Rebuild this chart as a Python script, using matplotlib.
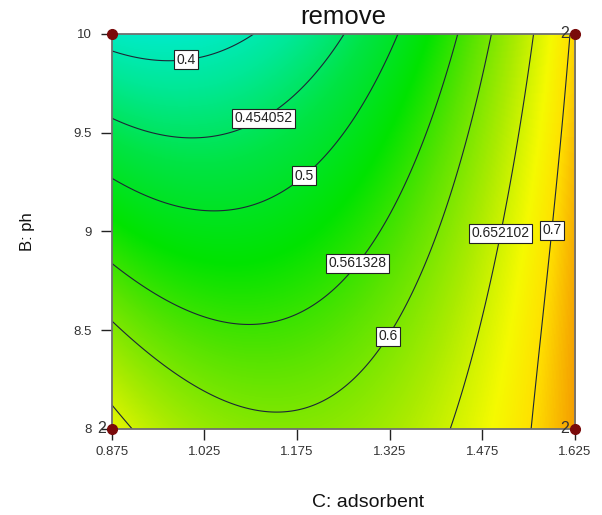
import numpy as np
import matplotlib
matplotlib.use("Agg")
import matplotlib.pyplot as plt
from matplotlib.colors import LinearSegmentedColormap, Normalize

plt.rcParams['font.family'] = ['Liberation Sans', 'DejaVu Sans']

# ---------------- data ----------------
title = "remove"
x_label = "C: adsorbent"
y_label = "B: ph"
x_ticks = [0.875, 1.025, 1.175, 1.325, 1.475, 1.625]
x_tick_labels = ["0.875", "1.025", "1.175", "1.325", "1.475", "1.625"]
y_ticks = [8, 8.5, 9, 9.5, 10]
y_tick_labels = ["8", "8.5", "9", "9.5", "10"]

levels = [0.4, 0.454052, 0.5, 0.561328, 0.6, 0.652102, 0.7]
level_labels = ["0.4", "0.454052", "0.5", "0.561328", "0.6", "0.652102", "0.7"]

# points: (C, B)
trace_040 = [(0.875, 9.919), (0.926, 9.878), (0.969, 9.863), (1.018, 9.883), (1.071, 9.934), (1.107, 10.0)]
trace_045 = [(0.875, 9.575), (0.937, 9.504), (0.997, 9.478), (1.072, 9.524), (1.120, 9.575),
             (1.180, 9.701), (1.212, 9.833), (1.253, 10.0)]
trace_050 = [(0.875, 9.266), (0.937, 9.175), (1.046, 9.104), (1.127, 9.144), (1.169, 9.225),
             (1.217, 9.377), (1.261, 9.580), (1.305, 9.802), (1.339, 10.0)]
trace_056 = [(0.875, 8.825), (0.965, 8.694), (1.046, 8.567), (1.110, 8.521), (1.169, 8.552),
             (1.229, 8.653), (1.277, 8.830), (1.301, 8.906), (1.342, 9.159), (1.385, 9.499),
             (1.418, 9.833), (1.436, 10.0)]
trace_060 = [(0.875, 8.527), (0.965, 8.349), (1.046, 8.197), (1.136, 8.086), (1.180, 8.096),
             (1.261, 8.233), (1.317, 8.461), (1.358, 8.739), (1.398, 8.906), (1.439, 9.327),
             (1.491, 10.0)]
trace_065 = [(0.875, 8.106), (0.909, 8.0), (1.423, 8.0), (1.450, 8.233), (1.482, 8.653),
             (1.500, 8.906), (1.531, 9.499), (1.557, 10.0)]
trace_070 = [(1.539, 8.0), (1.557, 8.4), (1.580, 8.906), (1.601, 9.499), (1.617, 10.0)]
traces = [trace_040, trace_045, trace_050, trace_056, trace_060, trace_065, trace_070]

# estimated values at a few spots between contours: (C, B, value)
extra_points = [(0.875, 10.0, 0.385), (1.625, 8.0, 0.725), (1.625, 9.0, 0.72),
                (1.625, 10.0, 0.705), (1.15, 8.0, 0.603)]

# contour label positions (C, B)
label_positions = [(0.994, 9.90), (1.12, 9.58), (1.183, 9.296), (1.277, 8.83),
                   (1.326, 8.461), (1.504, 8.992), (1.580, 9.01)]

# design points (corners) and replicate counts
design_C = [0.875, 1.625, 0.875, 1.625]
design_B = [10, 10, 8, 8]
design_reps = [1, 2, 2, 2]

# colour scale (value -> colour)
cmap_values = [0.38, 0.42, 0.47, 0.53, 0.58, 0.63, 0.675, 0.70, 0.73]
cmap_colors = ["#00ebc8", "#00e896", "#00e446", "#00e300", "#5ae400", "#aaeb00",
               "#f5fa00", "#ffe100", "#f5a000"]

# ---------------- fit response surface (cubic in coded units) ----------------
pts_C, pts_B, pts_v = [], [], []
for lev, tr in zip(levels, traces):
    for c, b in tr:
        pts_C.append(c); pts_B.append(b); pts_v.append(lev)
for c, b, v in extra_points:
    pts_C.append(c); pts_B.append(b); pts_v.append(v)
pts_C = np.array(pts_C); pts_B = np.array(pts_B); pts_v = np.array(pts_v)


def terms(C, B):
    X = (np.asarray(C) - 1.25) / 0.375
    Y = np.asarray(B) - 9.0
    return np.stack([np.ones_like(X), X, Y, X * Y, X**2, Y**2,
                     X**3, X**2 * Y, X * Y**2, Y**3], axis=-1)


coef, *_ = np.linalg.lstsq(terms(pts_C, pts_B), pts_v, rcond=None)

Cg = np.linspace(0.875, 1.625, 400)
Bg = np.linspace(8, 10, 400)
CC, BB = np.meshgrid(Cg, Bg)
Z = terms(CC, BB) @ coef

# ---------------- plot ----------------
fig = plt.figure(figsize=(6.02, 5.15), dpi=100)
ax = fig.add_axes([0.1855, 0.167, 0.7695, 0.767])

vmin, vmax = cmap_values[0], cmap_values[-1]
cmap = LinearSegmentedColormap.from_list(
    "de", [((v - vmin) / (vmax - vmin), col) for v, col in zip(cmap_values, cmap_colors)])
ax.imshow(Z, extent=[Cg[0], Cg[-1], Bg[0], Bg[-1]], origin="lower", aspect="auto",
          cmap=cmap, norm=Normalize(vmin, vmax), interpolation="bilinear", zorder=0)

cs = ax.contour(CC, BB, Z, levels=levels, colors="#1c2636", linewidths=0.8, zorder=2)
fmt = dict(zip(cs.levels, level_labels))
texts = ax.clabel(cs, cs.levels, manual=label_positions, inline=False, fmt=fmt,
                  fontsize=10, colors="#222222", zorder=4)
for t in texts:
    t.set_rotation(0)
    t.set_bbox(dict(boxstyle="square,pad=0.18", fc="white", ec="#222222", lw=0.8))

ax.set_xlim(0.875, 1.625)
ax.set_ylim(8, 10)

ax.plot(design_C, design_B, "o", color="#7a0a0a", markersize=7, clip_on=False, zorder=6)
for c, b, r in zip(design_C, design_B, design_reps):
    if r > 1:
        ax.annotate(str(r), (c, b), xytext=(-4, 0), textcoords="offset points",
                    ha="right", va="center", fontsize=11.5, color="#333333", zorder=7,
                    annotation_clip=False)

ax.set_xticks(x_ticks)
ax.set_xticklabels(x_tick_labels)
ax.set_yticks(y_ticks)
ax.set_yticklabels(y_tick_labels)
ax.tick_params(axis="both", length=8, width=1, color="#222222", labelsize=9.5,
               labelcolor="#333333")
ax.tick_params(axis="y", pad=6)
ax.tick_params(axis="x", pad=4)

for s in ax.spines.values():
    s.set_color("#707070")
    s.set_linewidth(1.3)

ax.set_title(title, fontsize=18.5, pad=7, color="#111111")
ax.set_xlabel(x_label, fontsize=14, color="#111111")
ax.xaxis.set_label_coords(0.553, -0.187)
ax.xaxis.label.set_va("center")
ax.set_ylabel(y_label, fontsize=12, color="#111111")
ax.yaxis.set_label_coords(-0.181, 0.5)
ax.yaxis.label.set_va("center")

fig.savefig("out.png", dpi=100)
